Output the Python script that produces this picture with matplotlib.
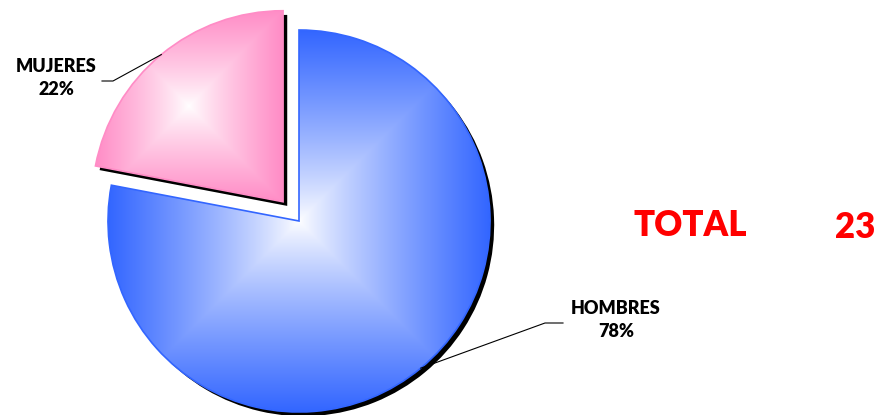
import numpy as np
import matplotlib
matplotlib.use("Agg")
import matplotlib.pyplot as plt
import matplotlib.patheffects as pe
from matplotlib.patches import PathPatch
from matplotlib.colors import to_rgb

# data
labels = ["MUJERES", "HOMBRES"]
values = [22, 78]
colors = ["#ff8cc6", "#3366ff"]
total = 23

plt.rcParams["font.family"] = ["Lato", "DejaVu Sans"]

fig = plt.figure(figsize=(8.8, 4.15), dpi=100)
ax = fig.add_axes([0, 0, 1, 1])

# explode is in data units here (radius is in pixels)
wedges, _ = ax.pie(values, center=(299, 194), radius=191, startangle=90,
                   explode=[25, 0], colors=["none", "none"])

# black drop shadow under each slice
for w in wedges:
    w.set_edgecolor("none")
    w.set_zorder(1)
    w.set_path_effects([pe.SimplePatchShadow(offset=(3, -3), shadow_rgbFace="black", alpha=1.0)])

# rectangular white-to-colour gradient fill clipped to each slice
for w, c in zip(wedges, colors):
    ext = w.get_path().get_extents()
    x0, y0, x1, y1 = ext.x0, ext.y0, ext.x1, ext.y1
    cx, cy = (x0 + x1) / 2, (y0 + y1) / 2
    hw, hh = (x1 - x0) / 2, (y1 - y0) / 2
    xs = np.linspace(x0, x1, 400)
    ys = np.linspace(y0, y1, 400)
    X, Y = np.meshgrid(xs, ys)
    t = np.clip(np.maximum(np.abs(X - cx) / hw, np.abs(Y - cy) / hh), 0, 1) ** 0.85
    base = np.array(to_rgb(c))
    img = 1 - (1 - base)[None, None, :] * t[:, :, None]
    im = ax.imshow(img, extent=(x0, x1, y0, y1), origin="lower", zorder=2, interpolation="bilinear")
    im.set_clip_path(w)
    ax.add_patch(PathPatch(w.get_path(), fc="none", ec=c, lw=1.2, zorder=3))

# labels with leader lines
label_pos = [(56, 337), (616, 95)]
elbow = [((113, 334), (102, 334)), ((545, 92), (563, 92))]
for w, lab, v, (tx, ty), (p1, p2) in zip(wedges, labels, values, label_pos, elbow):
    ang = np.deg2rad((w.theta1 + w.theta2) / 2)
    ex = w.center[0] + w.r * np.cos(ang)
    ey = w.center[1] + w.r * np.sin(ang)
    ax.plot([ex, p1[0], p2[0]], [ey, p1[1], p2[1]], color="black", lw=0.8, zorder=4)
    ax.text(tx, ty, f"{lab}\n{v}%", ha="center", va="center", fontsize=13,
            fontweight="heavy", linespacing=1.4, zorder=5)

ax.text(690, 190, "TOTAL", ha="center", va="center", fontsize=25, fontweight="heavy", color="red")
ax.text(855, 188, str(total), ha="center", va="center", fontsize=25, fontweight="heavy", color="red")

ax.set_xlim(0, 880)
ax.set_ylim(0, 415)
ax.set_aspect("auto")
ax.axis("off")

fig.savefig("out.png", dpi=100)
